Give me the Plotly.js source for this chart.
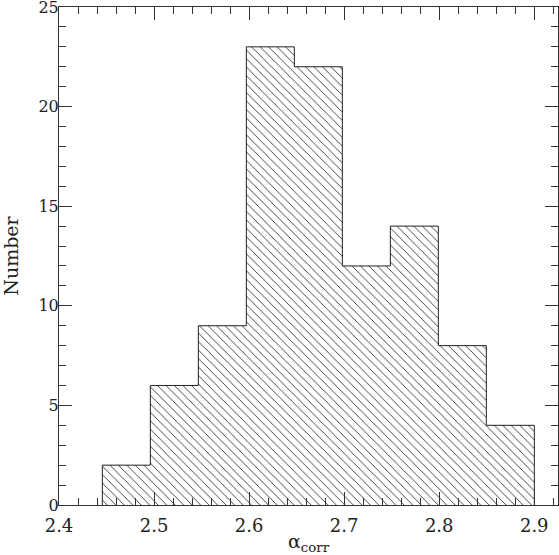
<!DOCTYPE html>
<html>
<head>
<meta charset="utf-8">
<script src="https://cdn.plot.ly/plotly-3.0.1.min.js"></script>
<style>html,body{margin:0;padding:0;background:#fff;}#chart{width:559px;height:555px;}</style>
</head>
<body>
<div id="chart"></div>
<script>
// Histogram bin edges (alpha_corr) and counts per bin
const binEdges = [2.4456, 2.4961, 2.5466, 2.5971, 2.6476, 2.6981, 2.7486, 2.7991, 2.8496, 2.9001];
const counts = [2, 6, 9, 23, 22, 12, 14, 8, 4];
const xTickVals = [2.4, 2.5, 2.6, 2.7, 2.8, 2.9];
const xTickText = ['2.4', '2.5', '2.6', '2.7', '2.8', '2.9'];
const yTickVals = [0, 5, 10, 15, 20, 25];
const yTickText = ['0', '5', '10', '15', '20', '25'];

const centers = counts.map((c, i) => (binEdges[i] + binEdges[i + 1]) / 2);
const widths = counts.map((c, i) => binEdges[i + 1] - binEdges[i]);

// step outline built from the data
const ox = [binEdges[0]], oy = [0];
counts.forEach((c, i) => { ox.push(binEdges[i], binEdges[i + 1]); oy.push(c, c); });
ox.push(binEdges[binEdges.length - 1]); oy.push(0);

const font = "'DejaVu Serif', 'Liberation Serif', serif";

const traces = [
  {
    type: 'bar', x: centers, y: counts, width: widths,
    marker: {
      color: 'white',
      line: {width: 0},
      pattern: {shape: '\\', size: 6, solidity: 0.12, fgcolor: 'black', bgcolor: 'white'}
    },
    hoverinfo: 'skip'
  },
  {
    type: 'scatter', mode: 'lines', x: ox, y: oy,
    line: {color: '#222', width: 1}, hoverinfo: 'skip'
  }
];

const axisCommon = {
  showgrid: false, zeroline: false, showline: true, linecolor: '#333', linewidth: 1,
  mirror: 'allticks', ticks: 'inside', ticklen: 13, tickwidth: 1, tickcolor: '#333',
  ticklabeloverflow: 'allow'
};

const layout = {
  width: 559, height: 555,
  margin: {l: 59, r: 1, t: 7, b: 50},
  paper_bgcolor: 'white', plot_bgcolor: 'white',
  showlegend: false, bargap: 0,
  xaxis: Object.assign({}, axisCommon, {
    range: [2.4, 2.925], tickmode: 'array', tickvals: xTickVals, ticktext: xTickText,
    tickfont: {family: font, size: 18, color: '#222'},
    ticklabelstandoff: 4,
    minor: {dtick: 0.02, tick0: 2.4, ticks: 'inside', ticklen: 7, tickwidth: 1, tickcolor: '#333'},
    title: {text: 'α<sub>corr</sub>', font: {family: font, size: 19, color: '#222'}, standoff: 0}
  }),
  yaxis: Object.assign({}, axisCommon, {
    range: [0, 25], tickmode: 'array', tickvals: yTickVals, ticktext: yTickText,
    tickfont: {family: font, size: 16, color: '#222'},
    ticklabelstandoff: -4,
    minor: {dtick: 1, tick0: 0, ticks: 'inside', ticklen: 7, tickwidth: 1, tickcolor: '#333'},
    title: {text: 'Number', font: {family: font, size: 19, color: '#222'}, standoff: 16}
  })
};

Plotly.newPlot('chart', traces, layout, {displayModeBar: false, staticPlot: true});
</script>
</body>
</html>
